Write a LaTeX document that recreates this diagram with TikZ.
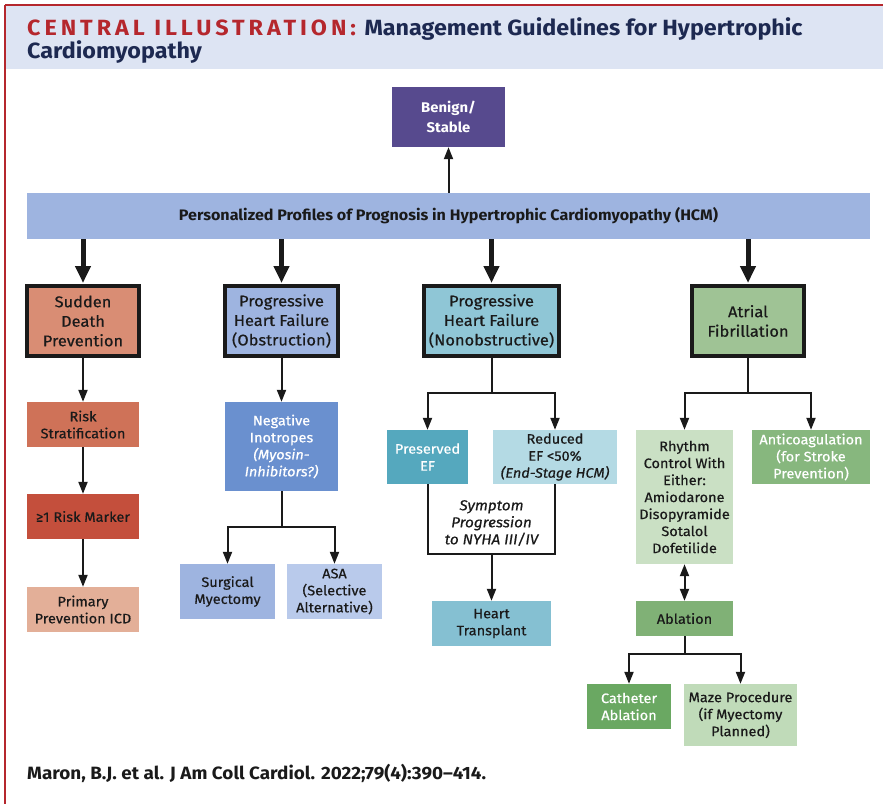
\documentclass[tikz,border=0pt]{standalone}
\usepackage{fontspec}
\setmainfont[FakeStretch=1.06]{Fira Sans}
\newfontfamily\medfont[FakeStretch=1.06,FakeBold=0.5]{Fira Sans}
\newfontfamily\redfont[FakeStretch=1.06,LetterSpace=18]{Fira Sans}
\usetikzlibrary{arrows.meta,calc}
\definecolor{jred}{HTML}{B5272D}
\definecolor{navy}{HTML}{1D2951}
\definecolor{hdr}{HTML}{DDE4F3}
\definecolor{txt}{HTML}{1A1A1A}
\definecolor{cBen}{HTML}{574A8E}
\definecolor{cBand}{HTML}{9EB4E0}
\definecolor{cSD}{HTML}{D98D74}
\definecolor{cPO}{HTML}{9EB4E0}
\definecolor{cPN}{HTML}{8FC6D6}
\definecolor{cAF}{HTML}{9FC395}
\definecolor{cRS}{HTML}{CF7258}
\definecolor{cRM}{HTML}{C44F3C}
\definecolor{cPP}{HTML}{E3AF98}
\definecolor{cNI}{HTML}{6A90CF}
\definecolor{cSM}{HTML}{9EB4E0}
\definecolor{cASA}{HTML}{B9CAEB}
\definecolor{cPE}{HTML}{55A8BE}
\definecolor{cRE}{HTML}{B4DAE4}
\definecolor{cHT}{HTML}{85C0D2}
\definecolor{cRC}{HTML}{CAE0C4}
\definecolor{cAC}{HTML}{87B77E}
\definecolor{cAB}{HTML}{80B176}
\definecolor{cCA}{HTML}{6AA862}
\definecolor{cMZ}{HTML}{C0DBB9}
\begin{document}
\begin{tikzpicture}[x=1pt,y=-1pt,
  box/.style={draw=none, inner sep=0pt, align=center, text=txt,
    font=\medfont\fontsize{13.7}{17}\selectfont},
  mainbox/.style={draw=txt, line width=4pt, inner sep=0pt, align=center, text=txt,
    minimum height=70pt, font=\medfont\fontsize{15.5}{19.5}\selectfont},
  bigarr/.style={draw=txt, line width=5pt, -{Triangle[width=15pt,length=17pt]}, shorten >=1pt},
  arr/.style={draw=txt, line width=2pt, -{Triangle[width=9pt,length=12pt]}},
  dblarr/.style={draw=txt, line width=2pt, {Triangle[width=9pt,length=12pt]}-{Triangle[width=9pt,length=12pt]}},
  plainline/.style={draw=txt, line width=2pt}
]
\useasboundingbox (0,0) rectangle (883,804);
\fill[white] (0,0) rectangle (883,804);
% frame and header
\fill[hdr] (6,6) rectangle (883,69);
\draw[jred, line width=2.5pt] (5,5) -- (883,5);
\draw[jred, line width=2.5pt] (5,5) -- (5,804);
\node[anchor=base west, inner sep=0pt, text=navy,
  font=\bfseries\fontsize{22}{24}\selectfont] (title1) at (27,35)
  {\textcolor{jred}{\redfont CENTRAL ILLUSTRATION:}\hspace{3pt} Management Guidelines for Hypertrophic};
\node[anchor=base west, inner sep=0pt, text=navy,
  font=\bfseries\fontsize{22}{24}\selectfont] (title2) at (27,58)
  {Cardiomyopathy};

% top
\node[box, fill=cBen, text=white, minimum width=113pt, minimum height=60pt,
  font=\bfseries\fontsize{14}{19.5}\selectfont] (ben) at (448.5,117) {Benign/\\Stable};
\node[box, fill=cBand, minimum width=843pt, minimum height=46pt,
  font=\bfseries\fontsize{15.2}{17}\selectfont] (band) at (448.5,216)
  {Personalized Profiles of Prognosis in Hypertrophic Cardiomyopathy (HCM)};
\draw[arr] (band.north -| ben.south) -- (ben.south);

% main boxes
\node[mainbox, fill=cSD, minimum width=112pt] (sd) at (83,321) {Sudden\\Death\\Prevention};
\node[mainbox, fill=cPO, minimum width=113pt] (po) at (281.5,321) {Progressive\\Heart Failure\\(Obstruction)};
\node[mainbox, fill=cPN, minimum width=135pt] (pn) at (491.5,321) {Progressive\\Heart Failure\\(Nonobstructive)};
\node[mainbox, fill=cAF, minimum width=112pt] (af) at (748,321) {Atrial\\Fibrillation};
\foreach \n in {sd,po,pn,af}{\draw[bigarr] (band.south -| \n.north) -- (\n.north);}

% column 1
\node[box, fill=cRS, minimum width=112pt, minimum height=45pt] (rs) at (83,424.5) {Risk\\Stratification};
\node[box, fill=cRM, minimum width=112pt, minimum height=45pt] (rm) at (83,516.5) {≥1 Risk Marker};
\node[box, fill=cPP, minimum width=112pt, minimum height=45pt] (pp) at (83,609.5) {Primary\\Prevention ICD};
\draw[arr] (sd.south) -- (rs.north);
\draw[arr] (rs.south) -- (rm.north);
\draw[arr] (rm.south) -- (pp.north);

% column 2
\node[box, fill=cNI, text=white, minimum width=113pt, minimum height=89pt] (ni) at (281.5,446.5)
  {Negative\\Inotropes\\\itshape(Myosin-\\\itshape Inhibitors?)};
\node[box, fill=cSM, minimum width=95pt, minimum height=55pt] (sm) at (227.5,591.5) {Surgical\\Myectomy};
\node[box, fill=cASA, minimum width=95pt, minimum height=55pt] (asa) at (334.5,591.5) {ASA\\(Selective\\Alternative)};
\draw[arr] (po.south) -- (ni.north);
\draw[plainline] (ni.south) -- ++(0,36) coordinate (nib);
\draw[arr] (nib) -| (sm.north);
\draw[arr] (nib) -| (asa.north);

% column 3
\node[box, fill=cPE, text=white, minimum width=81pt, minimum height=54pt] (pe) at (427.5,457) {Preserved\\EF};
\node[box, fill=cRE, minimum width=124pt, minimum height=54pt] (re) at (555,457) {Reduced\\EF <50\%\\\itshape(End-Stage HCM)};
\node[box, fill=cHT, minimum width=119pt, minimum height=45pt] (ht) at (491.5,623.5) {Heart\\Transplant};
\draw[plainline] (pn.south) -- ++(0,35) coordinate (pnb);
\draw[arr] (pnb) -| (pe.north);
\draw[arr] (pnb) -| (re.north);
\coordinate (loopmid) at ($(ht.north)+(0,-47)$);
\draw[plainline] (pe.south) |- (loopmid) -| (re.south);
\draw[arr] (loopmid) -- (ht.north);
\node[box, font=\medfont\itshape\fontsize{14.4}{17}\selectfont] (sym) at (491.5,523) {Symptom\\Progression\\to NYHA III/IV};

% column 4
\node[box, fill=cRC, minimum width=97pt, minimum height=134pt] (rc) at (684.5,497)
  {Rhythm\\Control With\\Either:\\Amiodarone\\Disopyramide\\Sotalol\\Dofetilide};
\node[box, fill=cAC, text=white, minimum width=118pt, minimum height=54pt] (ac) at (811,457)
  {Anticoagulation\\(for Stroke\\Prevention)};
\node[box, fill=cAB, minimum width=97pt, minimum height=35pt] (ab) at (684.5,618.5) {Ablation};
\node[box, fill=cCA, text=white, minimum width=84pt, minimum height=45pt] (ca) at (629,706.5) {Catheter\\Ablation};
\node[box, fill=cMZ, minimum width=113pt, minimum height=62pt] (mz) at (740.5,715) {Maze Procedure\\(if Myectomy\\Planned)};
\draw[plainline] (af.south) -- ++(0,35) coordinate (afb);
\draw[arr] (afb) -| (rc.north);
\draw[arr] (afb) -| (ac.north);
\draw[dblarr] (rc.south) -- (ab.north);
\draw[plainline] (ab.south) -- ++(0,18) coordinate (abb);
\draw[arr] (abb) -| (ca.north);
\draw[arr] (abb) -| (mz.north);

% citation
\node[anchor=base west, inner sep=0pt, text=txt, font=\bfseries\fontsize{17.8}{20}\selectfont] (cite) at (27,779)
  {Maron, B.J. et al. J Am Coll Cardiol. 2022;79(4):390–414.};
\end{tikzpicture}
\end{document}
